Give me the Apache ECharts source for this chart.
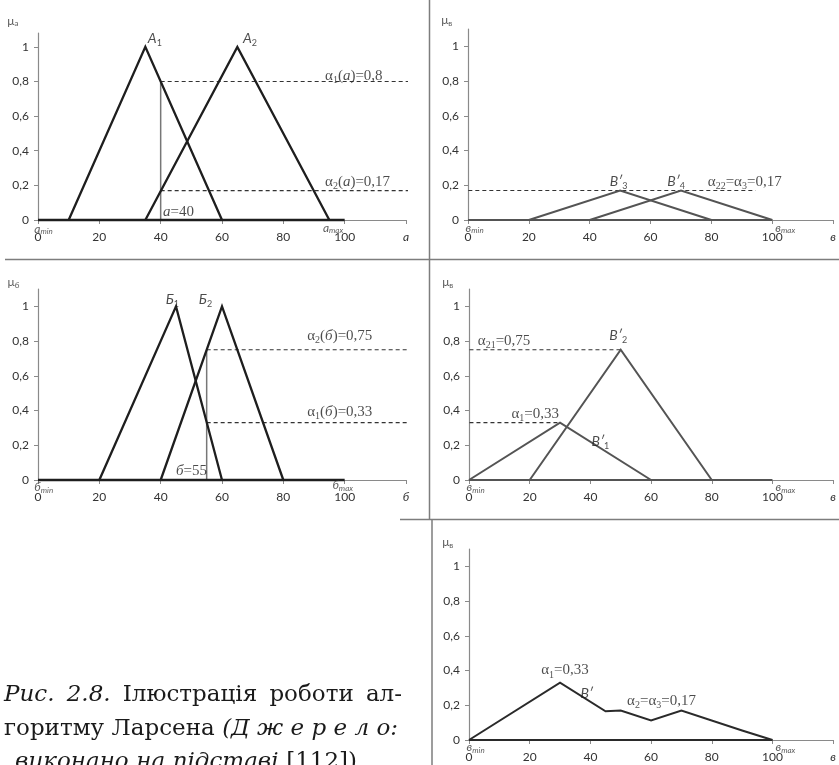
<!DOCTYPE html>
<html>
<head>
<meta charset="utf-8">
<script src="https://cdn.jsdelivr.net/npm/echarts@6/dist/echarts.min.js"></script>
<style>
html,body{margin:0;padding:0;background:#fff;}
#chart{width:839px;height:765px;}
</style>
</head>
<body>
<div id="chart"></div>
<script>
// ---- tick values shared by every panel ----
const xTicks = [0, 20, 40, 60, 80, 100, 120];
const yTicks = [0, 0.2, 0.4, 0.6, 0.8, 1];

// ---- panel 1: input а ----
const baseA = [[0, 0], [100, 0]];
const termA1 = [[10, 0], [35, 1], [60, 0]];
const termA2 = [[35, 0], [65, 1], [95, 0]];
const cutA = [[40, 0], [40, 0.8]];
const alphaA1 = [[40, 0.8], [127, 0.8]];
const alphaA2 = [[40, 0.17], [127, 0.17]];

// ---- panel 2: clipped output for rules 3 and 4 ----
const baseV1 = [[0, 0], [100, 0]];
const termV3 = [[20, 0], [50, 0.17], [80, 0]];
const termV4 = [[40, 0], [70, 0.17], [100, 0]];
const alphaV34 = [[-16, 0.17], [94.5, 0.17]];

// ---- panel 3: input б ----
const baseB = [[0, 0], [100, 0]];
const termB1 = [[20, 0], [45, 1], [60, 0]];
const termB2 = [[40, 0], [60, 1], [80, 0]];
const cutB = [[55, 0], [55, 0.75]];
const alphaB2 = [[55, 0.75], [127, 0.75]];
const alphaB1 = [[55, 0.33], [127, 0.33]];

// ---- panel 4: scaled output for rules 1 and 2 ----
const baseV2 = [[0, 0], [100, 0]];
const termV1 = [[0, 0], [30, 0.33], [60, 0]];
const termV2 = [[20, 0], [50, 0.75], [80, 0]];
const alphaV21 = [[-16, 0.75], [50, 0.75]];
const alphaV1 = [[-16, 0.33], [30, 0.33]];

// ---- panel 5: aggregated output ----
const baseV3 = [[0, 0], [100, 0]];
const termV = [[0, 0], [30, 0.33], [45, 0.165], [50, 0.17], [60, 0.113], [70, 0.17], [90, 0.055], [100, 0]];

// ---- text annotations: [x, y, rich text, align] in each panel's data space ----
const notesA = [
  [38.1, 1.05, '{g|A}{gs|1}', 'center'],
  [69.1, 1.05, '{g|A}{gs|2}', 'center'],
  [93.6, 0.83, '{t|α}{ts|1}{t|(}{ti|а}{t|)=0,8}', 'left'],
  [93.6, 0.22, '{t|α}{ts|2}{t|(}{ti|а}{t|)=0,17}', 'left'],
  [40.8, 0.046, '{ti|а}{t|=40}', 'left'],
  [-1.2, -0.05, '{m|а}{ms|min}', 'left'],
  [92.9, -0.045, '{m|а}{ms|max}', 'left'],
  [-8.2, 1.15, '{mu|μ}{mus|а}', 'center']
];
const notesV1 = [
  [49.5, 0.22, '{g|В′}{gs|3}', 'center'],
  [68.4, 0.22, '{g|В′}{gs|4}', 'center'],
  [78.8, 0.22, '{t|α}{ts|22}{t|=α}{ts|3}{t|=0,17}', 'left'],
  [-0.8, -0.045, '{m|в}{ms|min}', 'left'],
  [101, -0.045, '{m|в}{ms|max}', 'left'],
  [-7, 1.15, '{mu|μ}{mus|в}', 'center']
];
const notesB = [
  [43.8, 1.04, '{g|Б}{gs|1}', 'center'],
  [54.6, 1.04, '{g|Б}{gs|2}', 'center'],
  [87.8, 0.83, '{t|α}{ts|2}{t|(}{ti|б}{t|)=0,75}', 'left'],
  [87.8, 0.39, '{t|α}{ts|1}{t|(}{ti|б}{t|)=0,33}', 'left'],
  [45, 0.052, '{ti|б}{t|=55}', 'left'],
  [-1.2, -0.04, '{m|б}{ms|min}', 'left'],
  [96, -0.03, '{m|б}{ms|max}', 'left'],
  [-8, 1.14, '{mu|μ}{mus|б}', 'center']
];
const notesV2 = [
  [2.9, 0.8, '{t|α}{ts|21}{t|=0,75}', 'left'],
  [49.2, 0.83, '{g|В′}{gs|2}', 'center'],
  [14, 0.38, '{t|α}{ts|1}{t|=0,33}', 'left'],
  [43.3, 0.22, '{g|В′}{gs|1}', 'center'],
  [-0.8, -0.04, '{m|в}{ms|min}', 'left'],
  [101, -0.04, '{m|в}{ms|max}', 'left'],
  [-7, 1.14, '{mu|μ}{mus|в}', 'center']
];
const notesV3 = [
  [23.8, 0.4, '{t|α}{ts|1}{t|=0,33}', 'left'],
  [38.8, 0.27, '{g|В′}', 'center'],
  [52.1, 0.225, '{t|α}{ts|2}{t|=α}{ts|3}{t|=0,17}', 'left'],
  [-0.8, -0.04, '{m|в}{ms|min}', 'left'],
  [101, -0.04, '{m|в}{ms|max}', 'left'],
  [-7, 1.14, '{mu|μ}{mus|в}', 'center']
];

// ---- caption lines: words with italic flag ----
const captionLines = [
  [['Рис.', 1], ['2.8.', 1], ['Ілюстрація', 0], ['роботи', 0], ['ал-', 0]],
  [['горитму', 0], ['Ларсена', 0], ['(Д ж е р е л о:', 1]],
  [['виконано', 1], ['на', 1], ['підставі', 1], ['[112])', 0]]
];

const SERIF = '"Liberation Serif", "DejaVu Serif", serif';
const CAP_SERIF = '"DejaVu Serif", "Liberation Serif", serif';
const SANS = 'Lato, "Open Sans", "DejaVu Sans", sans-serif';

const rich = {
  t:  { fontFamily: SERIF, fontSize: 15, color: '#1e1e1e', lineHeight: 19, verticalAlign: 'middle' },
  ti: { fontFamily: SERIF, fontSize: 15, fontStyle: 'italic', color: '#1e1e1e', lineHeight: 19, verticalAlign: 'middle' },
  ts: { fontFamily: SERIF, fontSize: 10, color: '#1e1e1e', lineHeight: 19, verticalAlign: 'bottom' },
  g:  { fontFamily: SANS, fontSize: 14, fontStyle: 'italic', color: '#1e1e1e', lineHeight: 18, verticalAlign: 'middle' },
  gs: { fontFamily: SANS, fontSize: 9, color: '#1e1e1e', lineHeight: 18, verticalAlign: 'bottom' },
  m:  { fontFamily: SANS, fontSize: 12, fontStyle: 'italic', color: '#333', lineHeight: 14, verticalAlign: 'middle' },
  ms: { fontFamily: SANS, fontSize: 8, fontStyle: 'italic', color: '#333', lineHeight: 14, verticalAlign: 'bottom' },
  mu: { fontFamily: SANS, fontSize: 12, color: '#333', lineHeight: 14, verticalAlign: 'middle' },
  mus:{ fontFamily: SANS, fontSize: 8, color: '#333', lineHeight: 14, verticalAlign: 'bottom' },
  ax: { fontFamily: SANS, fontSize: 12, fontStyle: 'italic', color: '#333' }
};

const panels = [
  { grid: { left: 38, top: 33, width: 368, height: 187 }, ymax: 1.08, axis: 'а', color: '#1e1e1e', lw: 2.3,
    curves: [baseA, termA1, termA2], cuts: [cutA], dashes: [alphaA1, alphaA2], notes: notesA },
  { grid: { left: 468, top: 29, width: 368, height: 191 }, ymax: 1.1, axis: 'в', color: '#545454', lw: 2,
    curves: [baseV1, termV3, termV4], cuts: [], dashes: [alphaV34], notes: notesV1 },
  { grid: { left: 38, top: 289, width: 368, height: 191 }, ymax: 1.1, axis: 'б', color: '#1e1e1e', lw: 2.3,
    curves: [baseB, termB1, termB2], cuts: [cutB], dashes: [alphaB2, alphaB1], notes: notesB },
  { grid: { left: 469, top: 289, width: 368, height: 191 }, ymax: 1.1, axis: 'в', color: '#545454', lw: 2,
    curves: [baseV2, termV1, termV2], cuts: [], dashes: [alphaV21, alphaV1], notes: notesV2 },
  { grid: { left: 469, top: 549, width: 368, height: 191 }, ymax: 1.1, axis: 'в', color: '#2a2a2a', lw: 2,
    curves: [baseV3, termV], cuts: [], dashes: [], notes: notesV3 }
];

const AXIS_COLOR = '#8a8a8a';
const grid = [], xAxis = [], yAxis = [], series = [];

panels.forEach((p, i) => {
  grid.push(Object.assign({ containLabel: false }, p.grid));
  xAxis.push({
    type: 'value', gridIndex: i, min: 0, max: 120, interval: 20,
    axisLine: { show: true, onZero: false, lineStyle: { color: AXIS_COLOR, width: 1.2 } },
    axisTick: { show: true, length: 4, customValues: xTicks, lineStyle: { color: AXIS_COLOR } },
    axisLabel: {
      customValues: xTicks, margin: 11, fontFamily: SANS, fontSize: 12, color: '#333',
      formatter: v => (v === 120 ? '{ax|' + p.axis + '}' : String(v)), rich: rich
    },
    splitLine: { show: false }
  });
  yAxis.push({
    type: 'value', gridIndex: i, min: 0, max: p.ymax, interval: 0.2,
    axisLine: { show: true, onZero: false, lineStyle: { color: AXIS_COLOR, width: 1.2 } },
    axisTick: { show: true, length: 4, customValues: yTicks, lineStyle: { color: AXIS_COLOR } },
    axisLabel: {
      customValues: yTicks, margin: 9, fontFamily: SANS, fontSize: 12, color: '#333',
      formatter: v => String(Math.round(v * 10) / 10).replace('.', ',')
    },
    splitLine: { show: false }
  });
  const common = { xAxisIndex: i, yAxisIndex: i, symbol: 'none', silent: true, animation: false, clip: false };
  p.cuts.forEach(d => series.push(Object.assign({ type: 'line', data: d, z: 2,
    lineStyle: { color: '#777', width: 1.5 } }, common)));
  p.dashes.forEach(d => series.push(Object.assign({ type: 'line', data: d, z: 2,
    lineStyle: { color: '#333', width: 1.2, type: [4, 3] } }, common)));
  p.curves.forEach(d => series.push(Object.assign({ type: 'line', data: d, z: 3,
    lineStyle: { color: p.color, width: p.lw, join: 'miter' } }, common)));
  series.push({
    type: 'scatter', xAxisIndex: i, yAxisIndex: i, symbolSize: 0, silent: true, animation: false, clip: false, z: 5,
    data: p.notes.map(n => ({ value: [n[0], n[1]], txt: n[2], label: { align: n[3] } })),
    label: { show: true, position: 'inside', verticalAlign: 'middle', formatter: q => q.data.txt, rich: rich }
  });
});

// panel separators
const RULE = { stroke: '#7d7d7d', lineWidth: 1.5 };
const graphic = [
  { type: 'line', shape: { x1: 429.5, y1: 0, x2: 429.5, y2: 520 }, style: RULE, silent: true },
  { type: 'line', shape: { x1: 5, y1: 259.5, x2: 839, y2: 259.5 }, style: RULE, silent: true },
  { type: 'line', shape: { x1: 400, y1: 519.5, x2: 839, y2: 519.5 }, style: RULE, silent: true },
  { type: 'line', shape: { x1: 432, y1: 519.5, x2: 432, y2: 765 }, style: RULE, silent: true }
];

// caption, justified between the given margins
const CAP_SIZE = 23;
const measure = document.createElement('canvas').getContext('2d');
function wordWidth(w, it) {
  measure.font = (it ? 'italic ' : '') + CAP_SIZE + 'px ' + CAP_SERIF;
  return measure.measureText(w).width;
}
const capLayout = [
  { x0: 4, x1: 402, y: 695 },
  { x0: 4, x1: 398, y: 729 },
  { x0: 15, x1: 357, y: 762 }
];
captionLines.forEach((words, li) => {
  const L = capLayout[li];
  const widths = words.map(w => wordWidth(w[0], w[1]));
  const total = widths.reduce((a, b) => a + b, 0);
  const gap = Math.max(5, (L.x1 - L.x0 - total) / (words.length - 1));
  let x = L.x0;
  words.forEach((w, k) => {
    graphic.push({
      type: 'text', x: x, y: L.y, silent: true,
      style: { text: w[0], fill: '#1a1a1a', fontFamily: CAP_SERIF, fontSize: CAP_SIZE,
        fontStyle: w[1] ? 'italic' : 'normal', textAlign: 'left', textVerticalAlign: 'middle' }
    });
    x += widths[k] + gap;
  });
});

const chart = echarts.init(document.getElementById('chart'), null, { renderer: 'canvas' });
chart.setOption({
  animation: false,
  backgroundColor: '#fff',
  grid: grid, xAxis: xAxis, yAxis: yAxis, series: series, graphic: graphic
});
</script>
</body>
</html>
